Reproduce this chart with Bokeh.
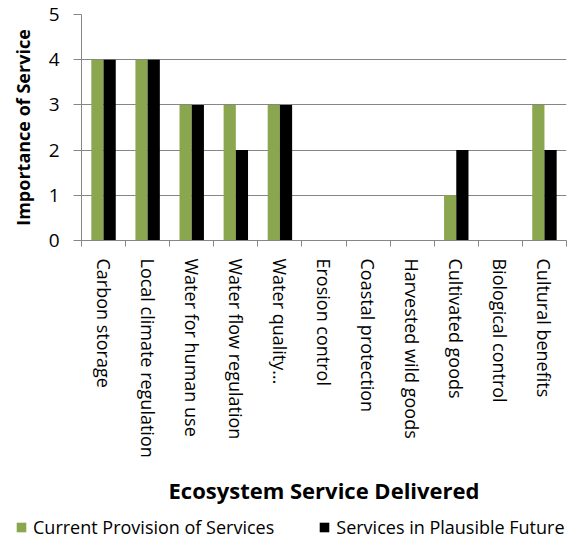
import numpy as np
from bokeh.plotting import figure
from bokeh.layouts import column, row
from bokeh.models import ColumnDataSource, FixedTicker, Legend, LegendItem, Range1d
from bokeh.embed import file_html
from bokeh.resources import INLINE

categories = ["Carbon storage", "Local climate regulation", "Water for human use",
              "Water flow regulation", "Water quality\u2026", "Erosion control",
              "Coastal protection", "Harvested wild goods", "Cultivated goods",
              "Biological control", "Cultural benefits"]
current = [4, 4, 3, 3, 3, 0, 0, 0, 1, 0, 3]
future = [4, 4, 3, 2, 3, 0, 0, 0, 2, 0, 2]
series_names = ["Current Provision of Services", "Services in Plausible Future"]
y_ticks = [0, 1, 2, 3, 4, 5]

GREEN = "#8AA64E"
GRID = "#868686"
FONT = "Open Sans"

n = len(categories)
centers = np.arange(n) + 0.5
bw = 0.277

src = ColumnDataSource(dict(
    xc=centers - bw / 2, xf=centers + bw / 2, cur=current, fut=future))

p = figure(width=568, height=510, output_backend="svg", toolbar_location=None,
           x_range=Range1d(0, n), y_range=Range1d(0, 5),
           min_border_left=81, min_border_right=2, min_border_top=14,
           min_border_bottom=270)
p.outline_line_color = None
p.background_fill_color = "white"
p.border_fill_color = "white"

r1 = p.vbar(x="xc", top="cur", width=bw, bottom=0, source=src,
            fill_color=GREEN, line_color=None)
r2 = p.vbar(x="xf", top="fut", width=bw, bottom=0, source=src,
            fill_color="black", line_color=None)

p.xgrid.visible = False
p.ygrid.grid_line_color = GRID
p.ygrid.grid_line_width = 1
p.ygrid.ticker = FixedTicker(ticks=y_ticks)

ya = p.yaxis[0]
ya.ticker = FixedTicker(ticks=y_ticks)
ya.axis_line_color = GRID
ya.major_tick_line_color = GRID
ya.major_tick_out = 8
ya.major_tick_in = 0
ya.minor_tick_line_color = None
ya.major_label_text_font = FONT
ya.major_label_text_font_size = "19px"
ya.major_label_text_color = "black"
ya.major_label_standoff = 14
ya.axis_label = "Importance of Service"
ya.axis_label_text_font = FONT
ya.axis_label_text_font_size = "18px"
ya.axis_label_text_font_style = "bold"
ya.axis_label_text_color = "black"
ya.axis_label_standoff = 11

xa = p.xaxis[0]
xa.ticker = FixedTicker(ticks=list(centers), minor_ticks=list(range(n + 1)))
xa.major_label_overrides = {float(c): lab for c, lab in zip(centers, categories)}
xa.major_label_orientation = "vertical"
xa.axis_line_color = GRID
xa.major_tick_line_color = None
xa.major_tick_out = 0
xa.major_tick_in = 0
xa.minor_tick_line_color = GRID
xa.minor_tick_out = 6
xa.minor_tick_in = 0
xa.major_label_text_font = FONT
xa.major_label_text_font_size = "18px"
xa.major_label_text_color = "black"
xa.major_label_standoff = 12
xa.axis_label = "Ecosystem Service Delivered"
xa.axis_label_text_font = FONT
xa.axis_label_text_font_size = "22px"
xa.axis_label_text_font_style = "bold"
xa.axis_label_text_color = "black"
xa.axis_label_standoff = 14

# legend strip (separate figure without axes)
q = figure(width=568, height=29, output_backend="svg", toolbar_location=None,
           x_range=Range1d(0, 1), y_range=Range1d(0, 1),
           x_axis_type=None, y_axis_type=None,
           min_border_left=0, min_border_right=0, min_border_top=0, min_border_bottom=0)
q.grid.visible = False
q.outline_line_color = None
q.border_fill_color = "white"
l1 = q.vbar(x=[-5], top=[0], width=0.1, fill_color=GREEN, line_color=None)
l2 = q.vbar(x=[-5], top=[0], width=0.1, fill_color="black", line_color=None)

legend = Legend(items=[LegendItem(label=series_names[0], renderers=[l1]),
                       LegendItem(label=series_names[1], renderers=[l2])],
                orientation="horizontal", location=(15, 0))
legend.label_text_font = FONT
legend.label_text_font_size = "18px"
legend.label_text_color = "black"
legend.glyph_width = 12
legend.glyph_height = 12
legend.label_standoff = 6
legend.spacing = 44
legend.padding = 0
legend.margin = 0
legend.border_line_color = None
legend.background_fill_alpha = 0
q.add_layout(legend, "center")

layout = column(p, row(q, spacing=0), spacing=0)
open("out.html", "w").write(file_html(layout, INLINE))
